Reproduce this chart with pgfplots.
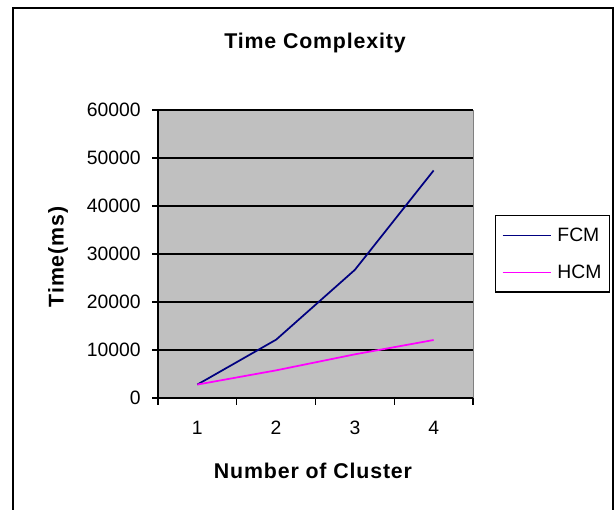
\documentclass[border=0pt]{standalone}
\usepackage{pgfplots}
\pgfplotsset{compat=1.18}
\usepackage{fontspec}
\setmainfont{Liberation Sans}
\newfontfamily\lblfont{Liberation Sans}[LetterSpace=4]
\definecolor{plotbg}{HTML}{C0C0C0}
\definecolor{fcm}{HTML}{000080}
\definecolor{hcm}{HTML}{FF00FF}
\begin{document}
\begin{tikzpicture}
\path (0,0) rectangle (461.25pt,382.5pt);
\draw[line width=1.1pt] (9.75pt,0pt) -- (9.75pt,376.5pt) -- (459.75pt,376.5pt) -- (459.75pt,0pt);
\begin{axis}[
  at={(118.5pt,84pt)}, anchor=origin,
  scale only axis, width=236.25pt, height=216pt,
  xmin=0.5, xmax=4.5, ymin=0, ymax=60000,
  axis background/.style={fill=plotbg, draw=gray},
  axis x line*=bottom, axis y line*=left,
  axis line style={black, line width=0.9pt},
  xtick={1,2,3,4}, major x tick style={draw=none},
  minor xtick={0.5,1.5,2.5,3.5,4.5},
  minor x tick style={black, line width=0.9pt},
  ytick={0,10000,20000,30000,40000,50000,60000},
  major y tick style={black, line width=0.9pt},
  tick align=outside,
  major tick length=4.5pt, minor tick length=5pt,
  ymajorgrids, grid style={black, line width=1pt},
  scaled y ticks=false,
  /pgf/number format/assume math mode=true,
  yticklabel style={/pgf/number format/fixed, /pgf/number format/1000 sep={}},
  tick label style={font=\fontsize{14.5}{17}\selectfont},
  xticklabel style={yshift=-9.5pt},
  yticklabel style={xshift=-5pt},
  legend style={at={(axis description cs:1.07,0.635)}, anchor=north west,
    draw=black, line width=1pt, fill=white,
    font=\fontsize{14.5}{17}\selectfont,
    inner xsep=4.5pt, inner ysep=7.5pt, row sep=13pt, column sep=3pt,
    nodes={inner sep=1.5pt}},
  legend cell align=left,
  legend image code/.code={\draw[#1, line width=1.3pt] (0pt,0pt) -- (36pt,0pt);},
]
\addplot[fcm, line width=1.3pt] coordinates {(1,2800) (2,12150) (3,26700) (4,47400)};
\addlegendentry{FCM}
\addplot[hcm, line width=1.3pt] coordinates {(1,2800) (2,5760) (3,9100) (4,12080)};
\addlegendentry{HCM}
\end{axis}
\node[anchor=base, font=\lblfont\bfseries\fontsize{16}{19}\selectfont] at (236.25pt,345.75pt) {Time Complexity};
\node[anchor=base, font=\lblfont\bfseries\fontsize{16}{19}\selectfont] at (234.75pt,23.25pt) {Number of Cluster};
\node[rotate=90, font=\lblfont\bfseries\fontsize{16}{19}\selectfont] at (43.5pt,189.75pt) {Time(ms)};
\end{tikzpicture}
\end{document}
